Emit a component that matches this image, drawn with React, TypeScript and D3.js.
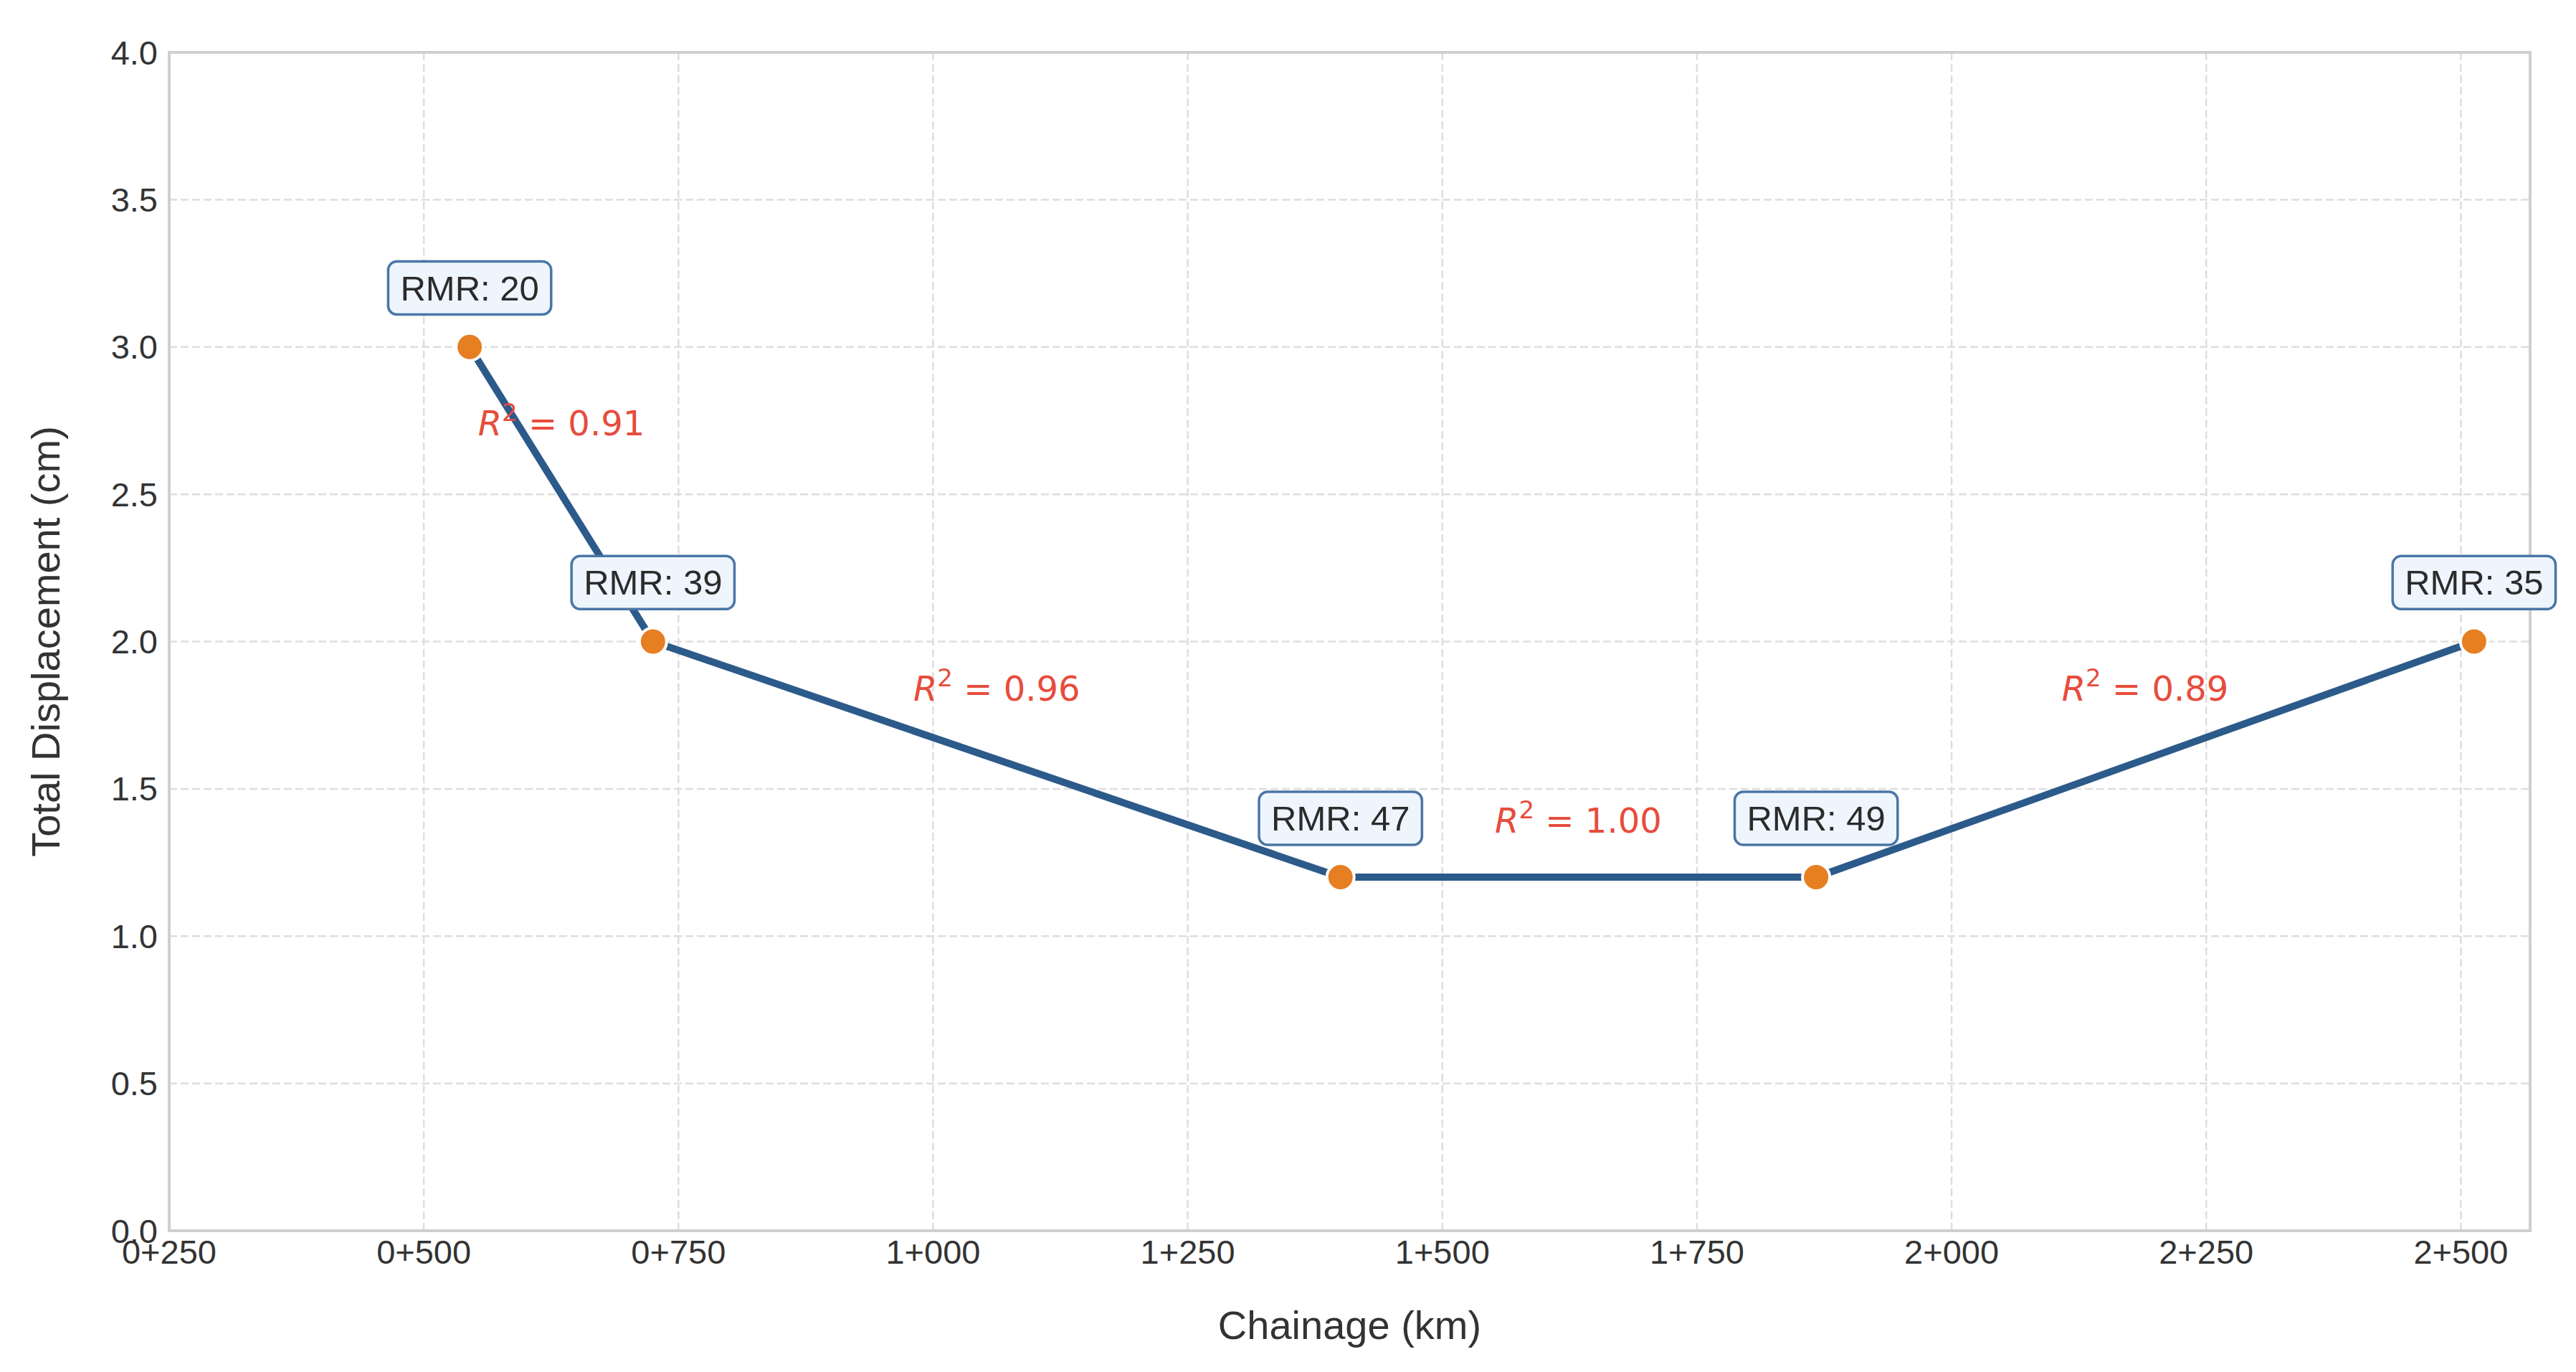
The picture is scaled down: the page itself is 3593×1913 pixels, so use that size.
import { useEffect, useRef } from 'react'
import * as d3 from 'd3'

// Chainage (m) and total displacement (cm) at each monitoring section
const chainage = [545, 725, 1400, 1867, 2513]
const displacement = [3.0, 2.0, 1.2, 1.2, 2.0]
const rmrValues = [20, 39, 47, 49, 35]

// R² between consecutive sections and where each label sits (in cm)
const r2Values = ['0.91', '0.96', '1.00', '0.89']
const r2LabelY = [2.7, 1.8, 1.35, 1.8]

const xTicks = d3.range(250, 2501, 250)
const yTicks = d3.range(0, 4.01, 0.5)

const W = 3593
const H = 1913

const fmtChainage = (v: number) => `${Math.floor(v / 1000)}+${String(v % 1000).padStart(3, '0')}`

export default function App() {
  const ref = useRef<SVGSVGElement>(null)

  useEffect(() => {
    if (!ref.current) return
    const svg = d3.select(ref.current)
    svg.selectAll('*').remove()

    const margin = { top: 73, right: 64, bottom: 197, left: 236 }
    const x = d3.scaleLinear().domain([250, 2568]).range([margin.left, W - margin.right])
    const y = d3.scaleLinear().domain([0, 4]).range([H - margin.bottom, margin.top])
    const font = '"Liberation Sans", Arial, sans-serif'

    // grid
    const grid = svg.append('g')
    grid.selectAll('.gx').data(xTicks).enter().append('line')
      .attr('x1', d => x(d)).attr('x2', d => x(d))
      .attr('y1', y(0)).attr('y2', y(4))
      .attr('stroke', '#dedede').attr('stroke-width', 2.5).attr('stroke-dasharray', '11,5')
    grid.selectAll('.gy').data(yTicks).enter().append('line')
      .attr('x1', x.range()[0]).attr('x2', x.range()[1])
      .attr('y1', d => y(d)).attr('y2', d => y(d))
      .attr('stroke', '#dedede').attr('stroke-width', 2.5).attr('stroke-dasharray', '11,5')

    // frame
    svg.append('rect')
      .attr('x', x.range()[0]).attr('y', y(4))
      .attr('width', x.range()[1] - x.range()[0]).attr('height', y(0) - y(4))
      .attr('fill', 'none').attr('stroke', '#cfcfcf').attr('stroke-width', 4)

    // tick labels
    svg.append('g').selectAll('text').data(xTicks).enter().append('text')
      .attr('x', d => x(d)).attr('y', y(0) + 46)
      .attr('text-anchor', 'middle')
      .style('font-family', font).style('font-size', '47px').style('fill', '#333')
      .text(d => fmtChainage(d))

    svg.append('g').selectAll('text').data(yTicks).enter().append('text')
      .attr('x', x.range()[0] - 16).attr('y', d => y(d))
      .attr('text-anchor', 'end').attr('dominant-baseline', 'central')
      .style('font-family', font).style('font-size', '47px').style('fill', '#333')
      .text(d => d.toFixed(1))

    // axis titles
    svg.append('text')
      .attr('x', (x.range()[0] + x.range()[1]) / 2).attr('y', 1867)
      .attr('text-anchor', 'middle')
      .style('font-family', font).style('font-size', '56px').style('fill', '#333')
      .text('Chainage (km)')

    svg.append('text')
      .attr('transform', `translate(83,${(y(0) + y(4)) / 2}) rotate(-90)`)
      .attr('text-anchor', 'middle')
      .style('font-family', font).style('font-size', '56px').style('fill', '#333')
      .text('Total Displacement (cm)')

    const pts = chainage.map((c, i) => ({ c, d: displacement[i], rmr: rmrValues[i] }))

    // displacement line
    const line = d3.line<typeof pts[0]>().x(p => x(p.c)).y(p => y(p.d))
    svg.append('path')
      .datum(pts)
      .attr('d', line)
      .attr('fill', 'none').attr('stroke', '#2c5a8a').attr('stroke-width', 10)
      .attr('stroke-linejoin', 'round')

    svg.append('g').selectAll('circle').data(pts).enter().append('circle')
      .attr('cx', p => x(p.c)).attr('cy', p => y(p.d)).attr('r', 19)
      .attr('fill', '#e67e22').attr('stroke', '#fff').attr('stroke-width', 4)

    // RMR boxes
    const labelOffset = 0.2
    pts.forEach(p => {
      const g = svg.append('g').attr('transform', `translate(${x(p.c)},${y(p.d + labelOffset)})`)
      const rect = g.append('rect')
      const t = g.append('text')
        .attr('text-anchor', 'middle').attr('dominant-baseline', 'central')
        .style('font-family', font).style('font-size', '49px').style('fill', '#2b2b2b')
        .text(`RMR: ${p.rmr}`)
      const bw = (t.node() as SVGTextElement).getBBox().width + 34
      const bh = 74
      rect.attr('x', -bw / 2).attr('y', -bh / 2).attr('width', bw).attr('height', bh)
        .attr('rx', 12).attr('fill', '#eef5fc').attr('stroke', '#4a76a6').attr('stroke-width', 3.5)
    })

    // R² annotations
    r2Values.forEach((r, i) => {
      const mx = (x(pts[i].c) + x(pts[i + 1].c)) / 2
      const t = svg.append('text')
        .attr('x', mx).attr('y', y(r2LabelY[i]))
        .attr('text-anchor', 'middle')
        .style('font-family', '"DejaVu Sans", sans-serif').style('font-size', '48px').style('fill', '#e74c3c')
      t.append('tspan').style('font-style', 'italic').text('R')
      t.append('tspan').attr('dy', -20).style('font-size', '34px').text('2')
      t.append('tspan').attr('dy', 20).text(` = ${r}`)
    })

    return () => { svg.selectAll('*').remove() }
  }, [])

  return (
    <svg ref={ref} width={W} height={H} viewBox={`0 0 ${W} ${H}`}
      style={{ position: 'absolute', left: 0, top: 0, background: '#fff' }} />
  )
}
